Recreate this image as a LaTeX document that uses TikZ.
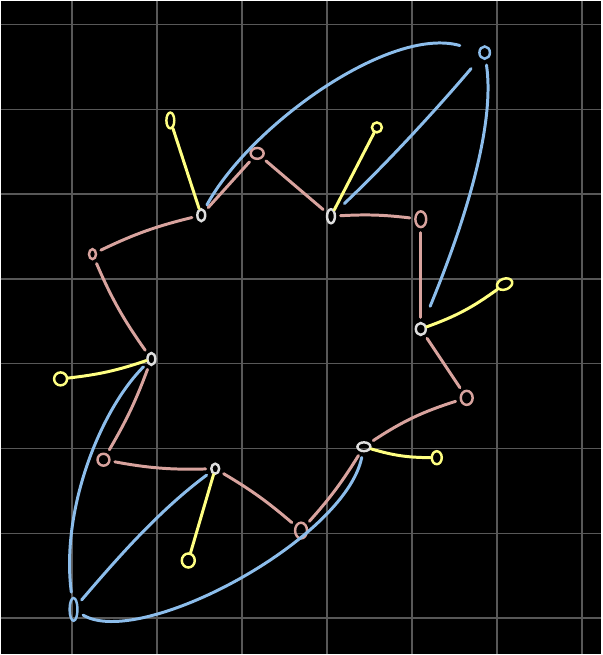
\documentclass[tikz,border=0pt]{standalone}
\usepackage{tikz}
\usetikzlibrary{shapes.geometric}
\definecolor{sketchpink}{RGB}{216,163,158}
\definecolor{sketchyellow}{RGB}{255,255,130}
\definecolor{sketchblue}{RGB}{140,189,235}
\definecolor{sketchwhite}{RGB}{222,222,222}
\definecolor{gridgray}{RGB}{88,88,88}

\begin{document}
\begin{tikzpicture}[x=0.02cm, y=-0.02cm,
    vertex/.style={shape=ellipse, line width=1.4pt, inner sep=0pt, minimum width=5pt, minimum height=7pt},
    pinkv/.style={vertex, draw=sketchpink},
    whitev/.style={vertex, draw=sketchwhite},
    yellowv/.style={vertex, draw=sketchyellow},
    bluev/.style={vertex, draw=sketchblue},
    pinkline/.style={draw=sketchpink, line width=1.7pt, line cap=round, shorten >=2.5pt, shorten <=2.5pt},
    yellowline/.style={draw=sketchyellow, line width=1.7pt, line cap=round},
    blueline/.style={draw=sketchblue, line width=1.7pt, line cap=round, shorten >=3pt, shorten <=3pt},
    gridline/.style={draw=gridgray, line width=0.8pt}]
     \fill[black] (0,0) rectangle (602,655);
     \foreach \gx in {71.4,156.6,241.8,326.9,412.1,497.2,582.4}
       \draw[gridline] (\gx,0) -- (\gx,655);
     \foreach \gy in {23.8,108.8,193.8,278.8,363.8,448.8,533.8,618.8}
       \draw[gridline] (0,\gy) -- (602,\gy);

     \node[pinkv, minimum width=7.4pt, minimum height=6.2pt] (p1) at (257,153) {};
     \node[pinkv, minimum width=6.2pt, minimum height=9pt]   (p2) at (421,219) {};
     \node[pinkv, minimum width=6.8pt, minimum height=8pt]   (p3) at (467,398) {};
     \node[pinkv, minimum width=6.8pt, minimum height=9pt]   (p4) at (301,531) {};
     \node[pinkv, minimum width=6.8pt, minimum height=6.8pt] (p5) at (103,460) {};
     \node[pinkv, minimum width=4pt, minimum height=5.7pt]   (p6) at (92,254)  {};

     \node[whitev, minimum width=4.5pt, minimum height=6.8pt] (w1) at (201,215) {};
     \node[whitev, minimum width=4.5pt, minimum height=8pt]   (w2) at (331,216) {};
     \node[whitev, minimum width=5.7pt, minimum height=6.8pt] (w3) at (421,329) {};
     \node[whitev, minimum width=7.4pt, minimum height=5pt]   (w4) at (364,447) {};
     \node[whitev, minimum width=4.5pt, minimum height=5.7pt] (w5) at (215,469) {};
     \node[whitev, minimum width=4.5pt, minimum height=6.8pt] (w6) at (151,359) {};

     \node[yellowv, minimum width=4.5pt, minimum height=9pt]   (y1) at (170,120) {};
     \node[yellowv, minimum width=5.7pt, minimum height=5.7pt] (y2) at (377,127) {};
     \node[yellowv, minimum width=9pt, minimum height=6.2pt, rotate=20] (y3) at (505,284) {};
     \node[yellowv, minimum width=5.7pt, minimum height=7.4pt] (y4) at (437,458) {};
     \node[yellowv, minimum width=7.4pt, minimum height=8pt]   (y5) at (188,561) {};
     \node[yellowv, minimum width=7.4pt, minimum height=7.4pt] (y6) at (60,379)  {};

     \node[bluev, minimum width=6pt, minimum height=7pt]    (b1) at (485,52)  {};
     \node[bluev, minimum width=4.5pt, minimum height=13pt] (b2) at (73,610)  {};

     \path (w1) edge[pinkline] (p1);
     \path (p1) edge[pinkline] (w2);
     \path (w2) edge[pinkline, bend left=5] (p2);
     \path (p2) edge[pinkline] (w3);
     \path (w3) edge[pinkline] (p3);
     \path (p3) edge[pinkline, bend right=8] (w4);
     \path (w4) edge[pinkline, bend left=5] (p4);
     \path (p4) edge[pinkline, bend right=5] (w5);
     \path (w5) edge[pinkline, bend left=6] (p5);
     \path (p5) edge[pinkline, bend right=5] (w6);
     \path (w6) edge[pinkline, bend left=6] (p6);
     \path (p6) edge[pinkline, bend left=6] (w1);

     \path (y1) edge[yellowline] (w1);
     \path (w2) edge[yellowline] (y2);
     \path (w3) edge[yellowline, bend right=8] (y3);
     \path (w4) edge[yellowline, bend right=8] (y4);
     \path (w5) edge[yellowline] (y5);
     \path (w6) edge[yellowline, bend left=6] (y6);

     \draw[blueline, shorten >=11pt] (w1) .. controls (250,125) and (390,25) .. (b1);
     \draw[blueline, shorten <=7pt, shorten >=8pt] (w2) .. controls (390,160) and (440,105) .. (b1);
     \draw[blueline, shorten <=10pt] (w3) .. controls (470,210) and (495,120) .. (b1);
     \draw[blueline] (w6) .. controls (100,410) and (60,510) .. (b2);
     \draw[blueline] (w5) .. controls (160,510) and (120,555) .. (b2);
     \draw[blueline] (w4) .. controls (345,540) and (140,650) .. (b2);
    \end{tikzpicture}
\end{document}
